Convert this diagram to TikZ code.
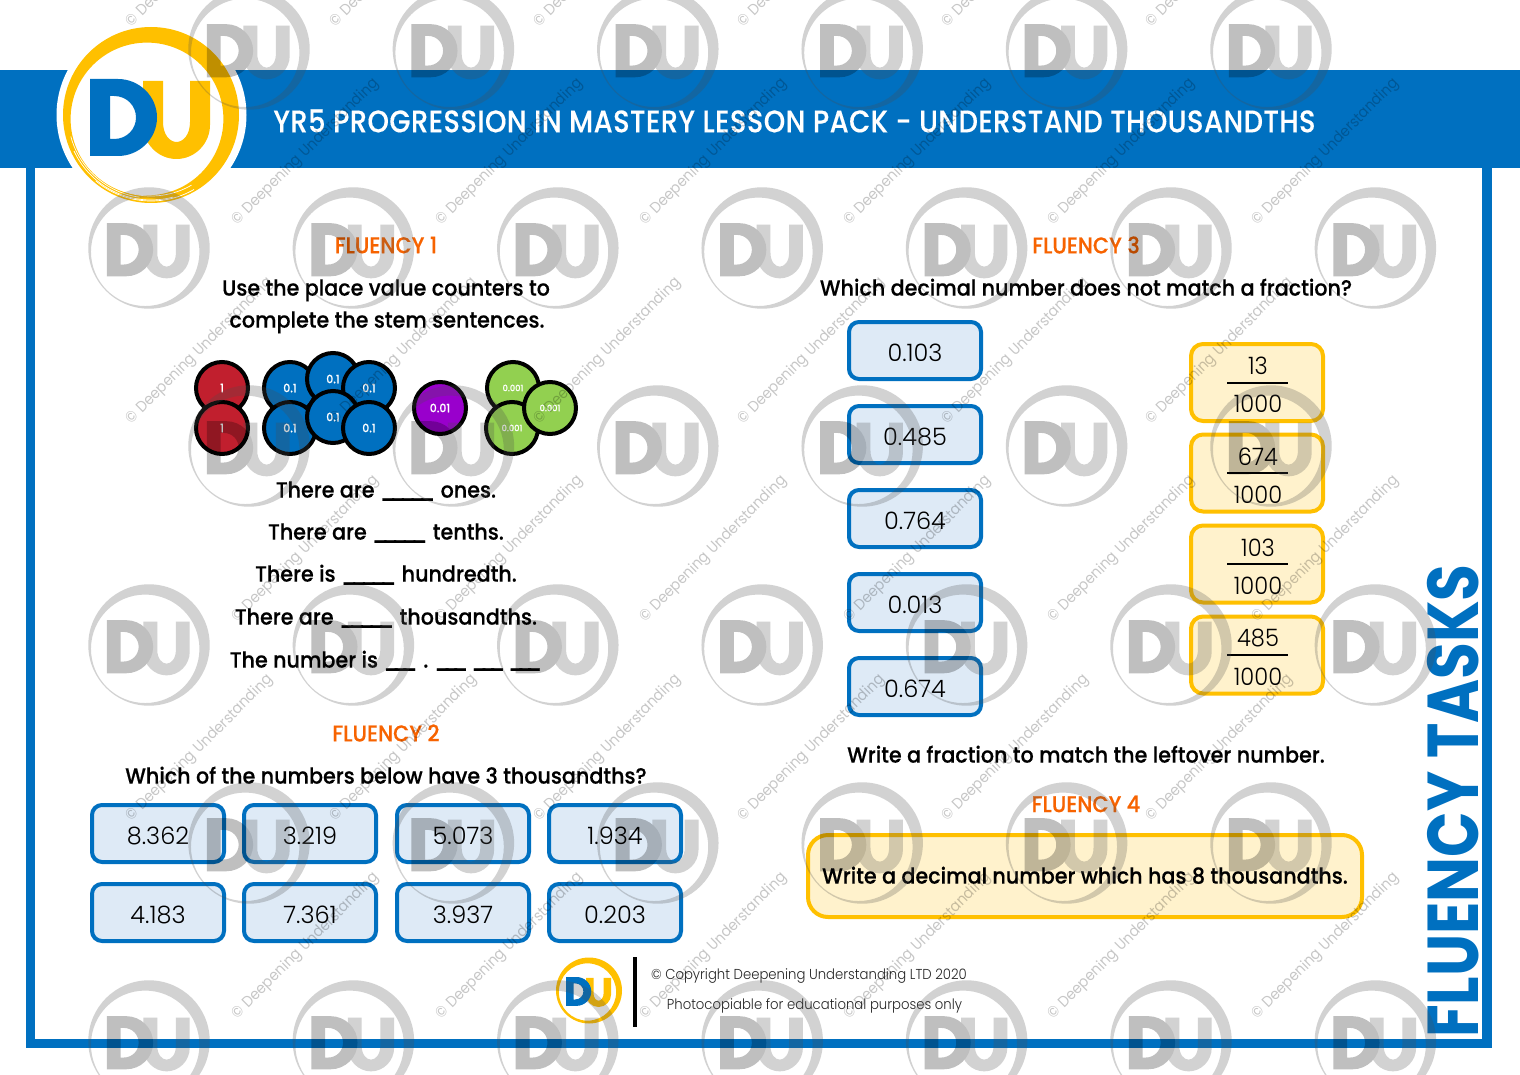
\documentclass[tikz,border=0pt]{standalone}
\usepackage{fontspec}
\setmainfont{Poppins}
\newfontfamily\bodyf{Poppins Medium}[FakeBold=0.4,FakeStretch=0.94]
\newfontfamily\headf{Poppins Medium}[FakeBold=0.25,FakeStretch=0.875,LetterSpace=1.5]
\newfontfamily\orf{Poppins Medium}[FakeBold=0.5,FakeStretch=0.92]
\newfontfamily\numf{Poppins Light}[FakeStretch=1.0]
\newfontfamily\fracf{Poppins Light}[FakeStretch=0.94]
\newfontfamily\footf{Poppins Light}[FakeStretch=0.92]
\newfontfamily\bigf{Poppins Bold}[FakeStretch=0.83]
\newfontfamily\wmf{Poppins}[FakeStretch=0.92]
\definecolor{dublue}{HTML}{0070C0}
\definecolor{duyel}{HTML}{FFC000}
\definecolor{yelfill}{HTML}{FFF2CC}
\definecolor{bluefill}{HTML}{DEEAF6}
\definecolor{duorange}{HTML}{F76300}
\definecolor{cred}{HTML}{C11F2E}
\definecolor{cpurple}{HTML}{9900CC}
\definecolor{cgreen}{HTML}{92D050}
\tikzset{
  bluebox/.style={draw=dublue,fill=bluefill,line width=2pt,rounded corners=5pt,minimum width=66pt,minimum height=28.5pt,inner sep=0pt,text height=11.6pt,text depth=1pt,font=\numf\fontsize{12}{14}\selectfont},
  yelbox/.style={draw=duyel,fill=yelfill,line width=2pt,rounded corners=6pt,minimum width=66pt,minimum height=38.5pt,inner sep=0pt},
  fracnum/.style={font=\fracf\fontsize{12}{14}\selectfont,inner sep=0pt},
  fracline/.style={line width=1pt,black},
  heading/.style={font=\orf\fontsize{11.4}{14}\selectfont,text=duorange,inner sep=0pt},
  bodytxt/.style={font=\bodyf\fontsize{11}{13}\selectfont,text=black,inner sep=0pt,text height=10pt,text depth=2.4pt},
  counter/.style={circle,draw=black,line width=2pt,minimum size=26pt,inner sep=0pt,outer sep=0pt,text=white,font=\bodyf\fontsize{5.8}{7}\selectfont},
  wmtext/.style={anchor=west,rotate=45,inner sep=0pt,text=black,text opacity=0.22,font=\wmf\fontsize{7.65}{9}\selectfont},
}
\newcommand{\ubar}{\_\kern-3.4pt}
\newcommand{\ublong}{\ubar\ubar\ubar\ubar\_}
\newcommand{\ubs}{\_\kern-3.9pt}
\newcommand{\ubshort}{\ubs\ubs\_}
\newcommand{\DUmark}[8]{% cx cy scale ringcolor Dcolor opacity inner-centre innerradius
  \begin{scope}[transparency group,opacity=#6,shift={(#1,#2)},scale=#3,shift={(-151,-115)}]
    \fill[#4,even odd rule] (151,115) circle[radius=44pt] (#7) circle[radius=#8pt];
    \fill[#4] (143,81) -- (163,81) -- (163,122) .. controls (163,135) and (170,142) .. (176.5,142) .. controls (183,142) and (190,135) .. (190,122) -- (190,81) -- (210,81) -- (210,125) .. controls (210,143.5) and (195,159) .. (176.5,159) .. controls (158,159) and (143,143.5) .. (143,125) -- cycle;
    \fill[#5,even odd rule] (90,79) -- (118,79) .. controls (139,79) and (157,96) .. (157,117.5) .. controls (157,139) and (139,156) .. (118,156) -- (90,156) -- cycle (110,96) -- (114,96) .. controls (127,96) and (136,106) .. (136,117.5) .. controls (136,129) and (127,139) .. (114,139) -- (110,139) -- cycle;
  \end{scope}}
\newcommand{\wmlogo}[2]{\DUmark{#1}{#2}{0.69}{black!70}{black}{0.25}{145.5,120.5}{39.3}}
\begin{document}
\begin{tikzpicture}[x=0.5pt,y=-0.5pt]
\useasboundingbox (0,0) rectangle (1520,1075);
\clip (0,0) rectangle (1520,1075);
\fill[white] (0,0) rectangle (1520,1075);
% frame and band
\fill[dublue] (26,160) rectangle (35,1048);
\fill[dublue] (26,1039) rectangle (1492,1048);
\fill[dublue] (1482,160) rectangle (1492,1048);
\fill[dublue] (0,70) rectangle (1520,168);
% big logo
\fill[white] (151.5,115) circle[radius=47.5pt];
\DUmark{151}{115}{1}{duyel}{dublue}{1}{147,119}{38.2}
\foreach \rr/\aa/\bb in {41.5/195/262,42.5/205/285,40.5/215/300,39.5/190/240,43/230/300}
  \draw[white,line width=0.35pt] (151,115) ++(\aa:\rr pt) arc[start angle=\aa,end angle=\bb,radius=\rr pt];
\node[anchor=west,inner sep=0pt,text=white,font=\headf\fontsize{15.6}{18}\selectfont] (title) at (273,121) {YR5 PROGRESSION IN MASTERY LESSON PACK - UNDERSTAND THOUSANDTHS};
% Fluency 1
\node[heading] (h1) at (386,245) {FLUENCY 1};
\node[bodytxt] (t1a) at (386,288) {Use the place value counters to};
\node[bodytxt] (t1b) at (387,320) {complete the stem sentences.};
\node[counter,fill=cred] (r1) at (222,388) {1};
\node[counter,fill=cred] (r2) at (222,428) {1};
\node[counter,fill=dublue] (b1) at (290,388) {0.1};
\node[counter,fill=dublue] (b2) at (333,379) {0.1};
\node[counter,fill=dublue] (b3) at (369,388) {0.1};
\node[counter,fill=dublue] (b4) at (290,428) {0.1};
\node[counter,fill=dublue] (b5) at (333,417) {0.1};
\node[counter,fill=dublue] (b6) at (369,428) {0.1};
\node[counter,fill=cpurple] (p1) at (440,408) {0.01};
\node[counter,fill=cgreen,font=\bodyf\fontsize{4.4}{6}\selectfont] (g1) at (513,388) {0.001};
\node[counter,fill=cgreen,font=\bodyf\fontsize{4.4}{6}\selectfont] (g2) at (512,428) {0.001};
\node[counter,fill=cgreen,font=\bodyf\fontsize{4.4}{6}\selectfont] (g3) at (550,408) {0.001};
\node[bodytxt] (s1) at (386,490) {There are \ublong{} ones.};
\node[bodytxt] (s2) at (386,532) {There are \ublong{} tenths.};
\node[bodytxt] (s3) at (386,574) {There is \ublong{} hundredth.};
\node[bodytxt] (s4) at (386,617) {There are \ublong{} thousandths.};
\node[bodytxt] (s5) at (386,660) {The number is \ubshort{}\kern3pt.\kern3pt\ubshort{}\kern1.5pt\ubshort{}\kern1.5pt\ubshort{}};
% Fluency 2
\node[heading] (h2) at (386,733) {FLUENCY 2};
\node[bodytxt] (t2) at (386,776) {Which of the numbers below have 3 thousandths?};
\node[bluebox] (a1) at (158,833.5) {8.362};
\node[bluebox] (a2) at (310,833.5) {3.219};
\node[bluebox] (a3) at (463,833.5) {5.073};
\node[bluebox] (a4) at (615,833.5) {1.934};
\node[bluebox] (a5) at (158,912.5) {4.183};
\node[bluebox] (a6) at (310,912.5) {7.361};
\node[bluebox] (a7) at (463,912.5) {3.937};
\node[bluebox] (a8) at (615,912.5) {0.203};
% Fluency 3
\node[heading] (h3) at (1086,245) {FLUENCY 3};
\node[bodytxt] (t3) at (1086,288) {Which decimal number does not match a fraction?};
\node[bluebox] (c1) at (915,350.5) {0.103};
\node[bluebox] (c2) at (915,434.5) {0.485};
\node[bluebox] (c3) at (915,518.5) {0.764};
\node[bluebox] (c4) at (915,602.5) {0.013};
\node[bluebox] (c5) at (915,686.5) {0.674};
\foreach \nm/\yy/\nn in {y1/382.5/13,y2/473/674,y3/564/103,y4/655/485}{
  \node[yelbox] (\nm) at (1257,\yy) {};
  \node[fracnum] (\nm n) at (1258,\yy-16.5) {\nn};
  \node[fracnum] (\nm d) at (1258,\yy+21.5) {1000};
  \draw[fracline] ([xshift=-15pt]\nm.center) -- ([xshift=15.5pt]\nm.center);
}
\node[bodytxt] (t3b) at (1086,755) {Write a fraction to match the leftover number.};
\node[heading] (h4) at (1086,804) {FLUENCY 4};
\node[draw=duyel,fill=yelfill,line width=2pt,rounded corners=10pt,minimum width=277pt,minimum height=41pt,inner sep=0pt] (f4) at (1085,876) {};
\node[bodytxt] (t4) at (1085,876) {Write a decimal number which has 8 thousandths.};
% side title
\node[rotate=90,inner sep=0pt,text=dublue,font=\bigf\fontsize{36}{40}\selectfont] (side) at (1453,801) {FLUENCY TASKS};
% footer
\DUmark{589}{990.5}{0.375}{duyel}{dublue}{1}{147,119}{38.2}
\fill[black] (633,957) rectangle (637,1027);
\node[inner sep=0pt,text=black!85,font=\footf\fontsize{7.2}{9}\selectfont] (foot1) at (809,976) {© Copyright Deepening Understanding LTD 2020};
\node[inner sep=0pt,text=black!85,font=\footf\fontsize{7.2}{9}\selectfont] (foot2) at (814.5,1006) {Photocopiable for educational purposes only};
% watermark overlay
\foreach \yy in {49,446,843} \foreach \xx in {249,453.4,657.8,862.2,1066.6,1271} {\wmlogo{\xx}{\yy}}
\foreach \yy in {248,645,1041} \foreach \xx in {149,353.4,557.8,762.2,966.6,1171,1375.4} {\wmlogo{\xx}{\yy}}
\foreach \yy in {25,422,819} \foreach \xx in {129,333,537,741,945,1149} {\node[wmtext] at (\xx,\yy) {© Deepening Understanding};}
\foreach \yy in {223,620,1017} \foreach \xx in {235,439,643,847,1051,1255} {\node[wmtext] at (\xx,\yy) {© Deepening Understanding};}
\end{tikzpicture}
\end{document}
